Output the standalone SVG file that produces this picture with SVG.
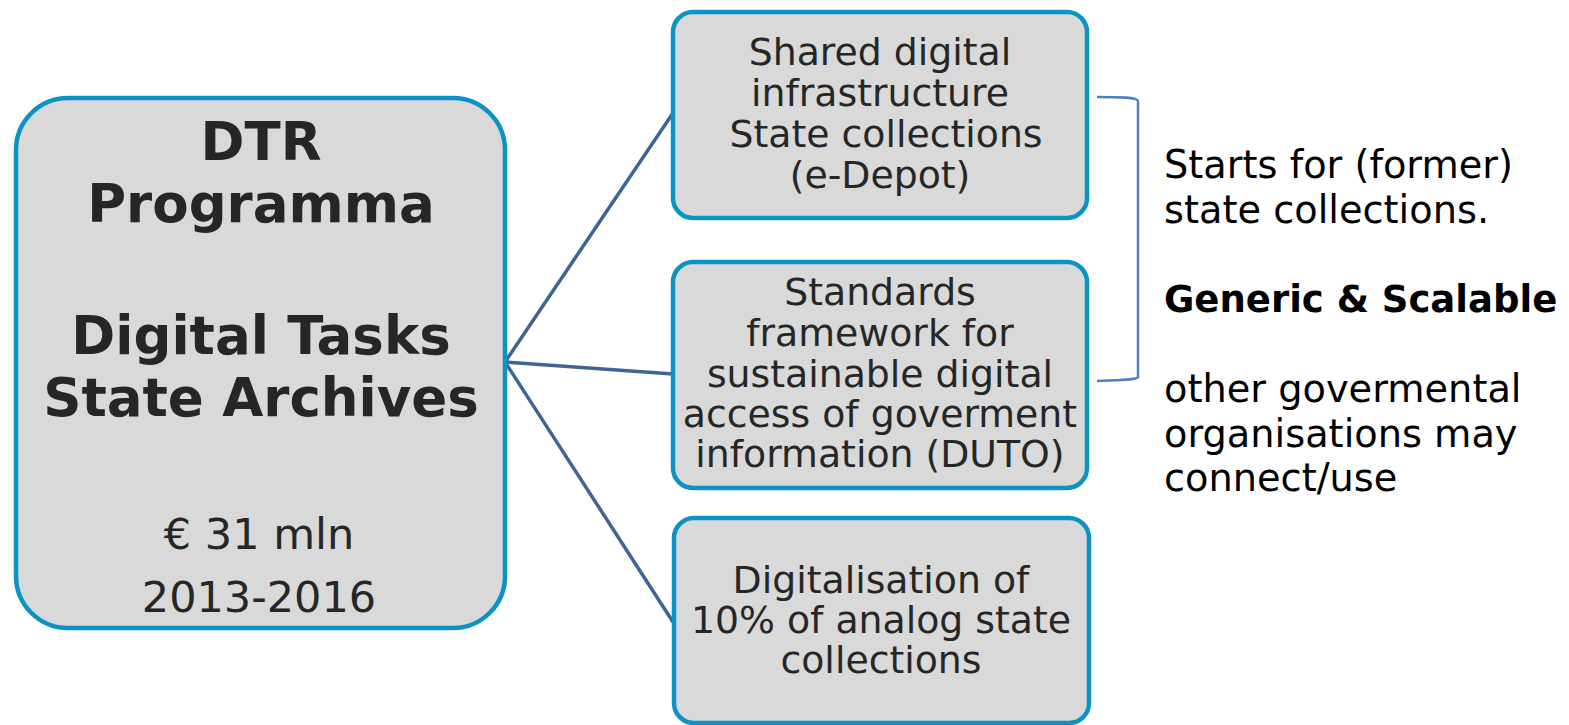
<svg xmlns="http://www.w3.org/2000/svg" width="1569" height="725" viewBox="0 0 1569 725">
<style>
.box{fill:#d9d9d9;stroke:#0b93c3;stroke-width:4.5}
.t{font-family:"DejaVu Sans","Verdana",sans-serif;fill:#262626;text-anchor:middle}
.s{font-size:37.8px}
.b{font-weight:bold;font-size:53px}
.conn{stroke:#3d6494;stroke-width:3.5;fill:none}
.r{font-family:"DejaVu Sans","Verdana",sans-serif;fill:#000;font-size:38.3px}
.rb{font-weight:bold;font-size:37px}
</style>
<rect width="1569" height="725" fill="#fff"/>
<g id="connectors">
<line class="conn" x1="505" y1="362" x2="673" y2="113"/>
<line class="conn" x1="505" y1="362" x2="673" y2="374"/>
<line class="conn" x1="505" y1="362" x2="673" y2="622"/>
</g>
<g id="main">
<rect class="box" x="16" y="98" width="489" height="530" rx="52"/>
<text class="t b" x="261" y="160">DTR</text>
<text class="t b" x="261" y="222">Programma</text>
<text class="t b" x="261" y="354">Digital Tasks</text>
<text class="t b" x="261" y="416">State Archives</text>
<text class="t" font-size="43" x="259" y="549">€ 31 mln</text>
<text class="t" font-size="43" x="259" y="612">2013-2016</text>
</g>
<g id="box1">
<rect class="box" x="673" y="12" width="414" height="206" rx="20"/>
<text class="t s" x="880" y="65">Shared digital</text>
<text class="t s" x="880" y="106">infrastructure</text>
<text class="t s" x="886" y="147">State collections</text>
<text class="t s" x="880" y="188">(e-Depot)</text>
</g>
<g id="box2">
<rect class="box" x="673" y="262" width="414" height="226" rx="20"/>
<text class="t s" x="880" y="305">Standards</text>
<text class="t s" x="880" y="346">framework for</text>
<text class="t s" x="880" y="387">sustainable digital</text>
<text class="t s" x="880" y="427">access of goverment</text>
<text class="t s" x="880" y="467">information (DUTO)</text>
</g>
<g id="box3">
<rect class="box" x="674" y="518" width="415" height="205" rx="20"/>
<text class="t s" x="881" y="593">Digitalisation of</text>
<text class="t s" x="881" y="633">10% of analog state</text>
<text class="t s" x="881" y="673">collections</text>
</g>
<g id="bracket">
<path d="M1097,97 C1120,97 1137,97 1138,101 L1138,377 C1137,380 1120,380 1097,381" fill="none" stroke="#4f7fc0" stroke-width="2.5"/>
</g>
<g id="note">
<text class="r" x="1164" y="178">Starts for (former)</text>
<text class="r" x="1164" y="223">state collections.</text>
<text class="r rb" x="1164" y="312">Generic &amp; Scalable</text>
<text class="r" x="1164" y="402">other govermental</text>
<text class="r" x="1164" y="447">organisations may</text>
<text class="r" x="1164" y="491">connect/use</text>
</g>
</svg>
